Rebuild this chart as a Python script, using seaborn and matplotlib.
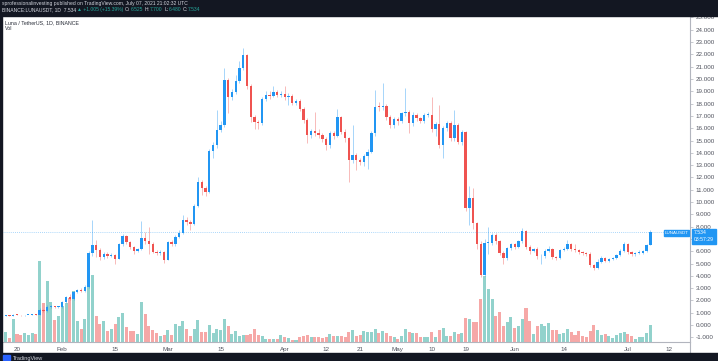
import numpy as np
import pandas as pd
import matplotlib
matplotlib.use("Agg")
import matplotlib.pyplot as plt
from matplotlib.patches import Rectangle
from matplotlib.lines import Line2D
import seaborn as sns

# LUNA/USDT daily candles, 2021-01-16 .. 2021-07-07 (index 0 = Jan 16)
opens = [
    0.80, 0.76, 0.79, 0.77, 0.84, 0.80, 0.78, 0.81, 0.82, 0.85,
    0.82, 1.25, 1.12, 1.48, 1.50, 1.44, 1.47, 1.85, 2.30, 2.12,
    2.65, 2.85, 2.78, 3.10, 5.85, 6.50, 6.10, 5.55, 5.80, 5.62,
    5.70, 5.40, 6.55, 7.20, 6.75, 6.35, 6.00, 6.20, 7.05, 6.80,
    6.60, 5.95, 5.85, 5.95, 5.30, 6.75, 6.55, 7.18, 7.50, 8.55,
    8.35, 8.25, 9.70, 11.65, 11.10, 10.80, 14.15, 14.65, 15.85, 16.30,
    19.90, 18.55, 18.97, 19.86, 20.87, 21.95, 19.40, 16.90, 16.50, 16.40,
    18.40, 18.70, 18.62, 18.95, 18.72, 18.78, 18.50, 18.60, 18.05, 18.20,
    17.60, 16.65, 15.45, 15.80, 15.65, 15.45, 15.10, 14.60, 15.60, 15.38,
    16.90, 15.70, 15.20, 13.40, 13.80, 13.45, 13.28, 13.70, 14.10, 15.58,
    17.75, 17.70, 17.78, 16.90, 16.26, 16.75, 16.60, 17.20, 17.30, 16.40,
    17.07, 16.80, 16.60, 17.07, 17.10, 15.90, 16.35, 14.60, 16.00, 16.45,
    15.20, 16.30, 14.90, 15.70, 9.50, 10.30, 8.27, 6.60, 4.07, 6.65,
    6.70, 7.30, 6.80, 5.88, 5.42, 6.23, 6.56, 6.35, 6.83, 7.67,
    6.37, 6.05, 6.20, 5.58, 5.60, 6.05, 6.15, 5.55, 5.42, 6.10,
    6.20, 6.56, 6.18, 6.10, 5.90, 5.82, 5.80, 4.88, 4.62, 5.15,
    5.45, 5.20, 5.35, 5.45, 5.68, 6.05, 6.60, 5.90, 5.75, 5.85,
    5.88, 6.00, 6.525,
]
highs = [
    0.82, 0.81, 0.80, 0.88, 0.86, 0.81, 0.83, 0.84, 0.87, 0.86,
    1.35, 1.32, 1.60, 1.62, 1.56, 1.55, 1.95, 2.40, 2.50, 2.75,
    2.95, 2.98, 3.25, 6.00, 8.50, 6.90, 6.30, 5.95, 5.90, 5.85,
    5.80, 6.70, 7.40, 7.35, 6.85, 6.45, 6.30, 8.45, 7.60, 8.00,
    6.75, 6.10, 6.10, 6.05, 6.85, 6.95, 7.30, 7.70, 8.95, 8.75,
    8.55, 9.85, 12.05, 11.80, 11.30, 14.30, 14.85, 17.50, 16.60, 20.90,
    20.10, 19.20, 20.30, 21.50, 22.50, 22.00, 19.60, 17.10, 16.70, 18.55,
    19.05, 19.00, 19.40, 19.10, 19.05, 19.40, 18.90, 18.75, 18.40, 18.35,
    17.75, 16.80, 15.95, 17.30, 15.90, 15.60, 15.25, 15.80, 15.75, 17.60,
    17.00, 15.90, 15.30, 16.30, 13.95, 13.60, 13.90, 14.30, 15.75, 19.10,
    18.10, 19.65, 17.95, 17.10, 16.90, 16.95, 17.35, 19.30, 17.50, 17.30,
    17.20, 16.95, 17.20, 17.30, 18.50, 16.50, 17.90, 16.20, 16.60, 16.60,
    17.50, 16.40, 15.85, 15.80, 11.30, 11.10, 8.40, 6.80, 7.00, 8.00,
    7.45, 7.45, 6.90, 6.00, 6.35, 6.70, 6.70, 6.95, 7.90, 7.75,
    6.50, 6.30, 6.35, 5.75, 6.15, 6.45, 6.25, 5.65, 6.20, 6.35,
    6.90, 6.65, 6.60, 6.20, 6.00, 5.95, 5.90, 4.95, 5.40, 5.60,
    5.55, 5.45, 5.55, 5.80, 6.15, 6.75, 6.70, 6.00, 5.95, 6.10,
    6.10, 6.60, 7.70,
]
lows = [
    0.74, 0.74, 0.75, 0.76, 0.78, 0.76, 0.77, 0.79, 0.80, 0.80,
    0.80, 1.05, 1.08, 1.38, 1.36, 1.38, 1.42, 1.80, 2.05, 2.05,
    2.58, 2.65, 2.70, 3.05, 5.60, 5.50, 5.30, 5.40, 5.45, 5.50,
    5.00, 5.35, 6.45, 6.55, 6.20, 5.80, 5.90, 6.10, 6.60, 5.80,
    5.85, 5.70, 5.70, 5.05, 5.25, 6.40, 6.45, 7.05, 7.40, 8.10,
    7.70, 8.15, 9.60, 10.60, 10.45, 10.70, 13.60, 14.40, 15.70, 16.10,
    17.20, 18.30, 18.80, 19.70, 20.70, 19.20, 16.50, 15.90, 15.95, 16.30,
    18.20, 18.40, 18.50, 18.50, 18.50, 18.30, 17.90, 17.90, 17.90, 17.40,
    16.40, 14.80, 15.20, 15.40, 15.20, 14.90, 14.20, 14.40, 15.10, 15.30,
    15.50, 14.90, 11.65, 13.20, 12.60, 13.00, 12.90, 12.70, 14.00, 15.40,
    17.40, 17.50, 16.70, 16.00, 16.00, 16.30, 16.40, 17.00, 15.60, 16.20,
    16.60, 16.40, 16.45, 16.90, 15.70, 15.40, 14.40, 13.60, 15.80, 15.00,
    15.00, 14.70, 14.60, 9.30, 8.10, 7.80, 6.20, 3.90, 3.95, 5.80,
    6.50, 6.60, 5.70, 5.00, 5.30, 6.10, 6.20, 6.25, 6.70, 6.20,
    5.80, 5.90, 5.40, 4.95, 5.45, 5.95, 5.40, 5.25, 5.35, 6.00,
    6.10, 6.05, 5.95, 5.80, 5.70, 5.65, 4.75, 4.50, 4.55, 5.05,
    5.10, 5.10, 5.25, 5.40, 5.60, 5.95, 5.80, 5.60, 5.65, 5.75,
    5.80, 5.90, 6.48,
]
closes = [
    0.76, 0.79, 0.77, 0.84, 0.80, 0.78, 0.81, 0.82, 0.85, 0.82,
    1.25, 1.12, 1.48, 1.50, 1.44, 1.47, 1.85, 2.30, 2.12, 2.65,
    2.85, 2.78, 3.10, 5.85, 6.50, 6.10, 5.55, 5.80, 5.62, 5.70,
    5.40, 6.55, 7.20, 6.75, 6.35, 6.00, 6.20, 7.05, 6.80, 6.60,
    5.95, 5.85, 5.95, 5.30, 6.75, 6.55, 7.18, 7.50, 8.55, 8.35,
    8.25, 9.70, 11.65, 11.10, 10.80, 14.15, 14.65, 15.85, 16.30, 19.90,
    18.55, 18.97, 19.86, 20.87, 21.95, 19.40, 16.90, 16.50, 16.40, 18.40,
    18.70, 18.62, 18.95, 18.72, 18.78, 18.50, 18.60, 18.05, 18.20, 17.60,
    16.65, 15.45, 15.80, 15.65, 15.45, 15.10, 14.60, 15.60, 15.38, 16.90,
    15.70, 15.20, 13.40, 13.80, 13.45, 13.28, 13.70, 14.10, 15.58, 17.75,
    17.70, 17.78, 16.90, 16.26, 16.75, 16.60, 17.20, 17.30, 16.40, 17.07,
    16.80, 16.60, 17.07, 17.10, 15.90, 16.35, 14.60, 16.00, 16.45, 15.20,
    16.30, 14.90, 15.70, 9.50, 10.30, 8.27, 6.60, 4.07, 6.65, 6.70,
    7.30, 6.80, 5.88, 5.42, 6.23, 6.56, 6.35, 6.83, 7.67, 6.37,
    6.05, 6.20, 5.58, 5.60, 6.05, 6.15, 5.55, 5.42, 6.10, 6.20,
    6.56, 6.18, 6.10, 5.90, 5.82, 5.80, 4.88, 4.62, 5.15, 5.45,
    5.20, 5.35, 5.45, 5.68, 6.05, 6.60, 5.90, 5.75, 5.85, 5.95,
    5.98, 6.53, 7.534,
]
# volume, millions USDT (rough)
volumes = [
    6, 10, 4, 23, 8, 7, 9, 7, 9, 8,
    81, 39, 61, 40, 22, 26, 36, 39, 44, 51,
    21, 13, 23, 64, 67, 26, 18, 21, 11, 13,
    18, 25, 29, 15, 11, 11, 8, 40, 28, 16,
    12, 9, 6, 7, 12, 7, 18, 16, 21, 13,
    6, 13, 22, 10, 10, 17, 9, 13, 12, 23,
    16, 8, 11, 6, 7, 7, 8, 13, 7, 6,
    3, 3, 3, 3, 7, 5, 4, 2, 2, 5,
    6, 7, 5, 5, 5, 4, 5, 8, 6, 6,
    6, 5, 10, 12, 6, 7, 11, 10, 10, 13,
    9, 11, 9, 6, 5, 3, 6, 13, 10, 9,
    9, 5, 5, 5, 10, 5, 12, 14, 6, 6,
    10, 8, 9, 24, 23, 20, 20, 43, 66, 53,
    43, 26, 30, 16, 20, 25, 14, 16, 23, 34,
    21, 8, 16, 18, 16, 19, 12, 12, 8, 9,
    13, 10, 7, 11, 6, 5, 11, 17, 12, 7,
    8, 6, 4, 7, 9, 10, 8, 6, 3, 5,
    5, 9, 17,
]

tick_days = [4, 16, 30, 44, 58, 75, 86, 95, 105, 114, 123, 136, 149, 166, 177]
tick_labels = ["20", "Feb", "15", "Mar", "15", "Apr", "12", "21", "May",
               "10", "19", "Jun", "14", "Jul", "12"]
price_ticks = list(range(-1, 26))
last_price = 7.534

UP = "#2196f3"
DOWN = "#ef5350"
DARK = "#131722"
GREY = "#50535e"

sns.set_style("white")
plt.rcParams["font.family"] = ["Liberation Sans", "DejaVu Sans"]

W, H = 718, 361
fig = plt.figure(figsize=(W / 100, H / 100), dpi=100)
fig.patch.set_facecolor("white")


def fx(px):
    return px / W


def fy(py):
    return 1 - py / H


left, right, top, bottom = 2, 690, 17, 342
rect = [fx(left), fy(bottom), (right - left) / W, (bottom - top) / H]
xlim = (0.02, 182.5)

days = np.arange(len(closes))
up = [c >= o for o, c in zip(opens, closes)]

# volume overlay (behind the candles)
ax_vol = fig.add_axes(rect)
df = pd.DataFrame({"day": days, "volume": volumes,
                   "direction": ["up" if u else "down" for u in up]})
sns.barplot(data=df, x="day", y="volume", hue="direction",
            palette={"up": "#26a69a", "down": DOWN}, native_scale=True,
            dodge=False, width=0.8, alpha=0.5, saturation=1, linewidth=0,
            errorbar=None, legend=False, ax=ax_vol)
ax_vol.set_xlim(*xlim)
ax_vol.set_ylim(0, 325)
ax_vol.axis("off")

# candles
ax = fig.add_axes(rect)
ax.set_facecolor("none")
cols = [UP if u else DOWN for u in up]
ax.vlines(days, lows, highs, colors=cols, linewidth=0.7, alpha=0.4)
bottoms = [min(o, c) for o, c in zip(opens, closes)]
heights = [max(abs(c - o), 0.07) for o, c in zip(opens, closes)]
ax.bar(days, heights, bottom=bottoms, width=0.62, color=cols, linewidth=0)

ax.axhline(last_price, color=UP, lw=0.6, ls=(0, (1, 1.5)), alpha=0.5)

ax.set_xlim(*xlim)
ax.set_ylim(-1.38, 25.04)
for s in ["top", "left"]:
    ax.spines[s].set_visible(False)
for s in ["right", "bottom"]:
    ax.spines[s].set_color("#b2b5be")
    ax.spines[s].set_linewidth(0.8)
ax.yaxis.tick_right()
# the 7.000 label sits under the last-price tag, so it is left blank
ax.set_yticks(price_ticks, ["" if t == 7 else f"{t:.3f}" for t in price_ticks])
ax.set_xticks(tick_days, tick_labels)
ax.tick_params(axis="y", labelsize=4.5, colors="#b2b5be", labelcolor=GREY,
               length=2, width=0.5, pad=2)
ax.tick_params(axis="x", labelsize=4.5, colors="#b2b5be", labelcolor=GREY,
               length=2, width=0.5, pad=1.5)
ax.set_xlabel("")
ax.set_ylabel("")

# price axis line continues into time axis strip
fig.add_artist(Line2D([fx(690.4), fx(690.4)], [fy(342), fy(353)],
                      color="#b2b5be", lw=0.8, transform=fig.transFigure))

# last price tags
fig.add_artist(Rectangle((fx(664), fy(235.5)), 25 / W, 5.5 / H,
                         transform=fig.transFigure, color=UP, zorder=5))
fig.text(fx(676.5), fy(232.8), "LUNAUSDT", color="white", fontsize=3.2,
         ha="center", va="center", zorder=6)
fig.add_artist(Rectangle((fx(692), fy(243.5)), 24 / W, 14.5 / H,
                         transform=fig.transFigure, color=UP, zorder=5))
fig.text(fx(694), fy(232.6), "7.534", color="white", fontsize=3.7,
         ha="left", va="center", zorder=6)
fig.text(fx(694), fy(239.8), "03:57:29", color="white", fontsize=3.7,
         ha="left", va="center", zorder=6)

# header / footer bands
fig.add_artist(Rectangle((0, fy(16)), 1, 16 / H, transform=fig.transFigure,
                         color=DARK, zorder=5))
fig.add_artist(Rectangle((0, 0), 1, (H - 353) / H, transform=fig.transFigure,
                         color=DARK, zorder=5))
fig.add_artist(Rectangle((0, 0), 2 / W, 1, transform=fig.transFigure,
                         color=DARK, zorder=5))

fig.text(fx(1.5), fy(3.8),
         "sprofessionalinvesting published on TradingView.com, July 07, 2021 21:02:32 UTC",
         color="#d1d4dc", fontsize=3.6, ha="left", va="center", zorder=6)

renderer = fig.canvas.get_renderer()
GREEN = "#26a69a"
parts = [("BINANCE:LUNAUSDT, 1D  7.534", "#d1d4dc"), ("\u25b2 +1.005 (+15.39%)", GREEN),
         ("O:", "#d1d4dc"), ("6.525", GREEN), ("H:", "#d1d4dc"), ("7.700", GREEN),
         ("L:", "#d1d4dc"), ("6.480", GREEN), ("C:", "#d1d4dc"), ("7.534", GREEN)]
x = fx(1.5)
for s, col in parts:
    t = fig.text(x, fy(9.8), s, color=col, fontsize=3.6, ha="left", va="center", zorder=6)
    bb = t.get_window_extent(renderer=renderer)
    gap = 0.3 if s.endswith(":") else 1.6
    x = fig.transFigure.inverted().transform((bb.x1, bb.y0))[0] + gap / W

fig.text(fx(5), fy(22.5), "Luna / TetherUS, 1D, BINANCE", color="#2a2e39",
         fontsize=3.8, ha="left", va="center")
fig.text(fx(5), fy(29), "Vol", color="#2a2e39", fontsize=3.8, ha="left", va="center")

fig.add_artist(Rectangle((fx(3), fy(360)), 7 / W, 5 / H, transform=fig.transFigure,
                         color="#2962ff", zorder=6))
fig.text(fx(13), fy(358.5), "TradingView", color="#d1d4dc", fontsize=4,
         ha="left", va="center", zorder=6)

fig.savefig("out.png", dpi=100)
